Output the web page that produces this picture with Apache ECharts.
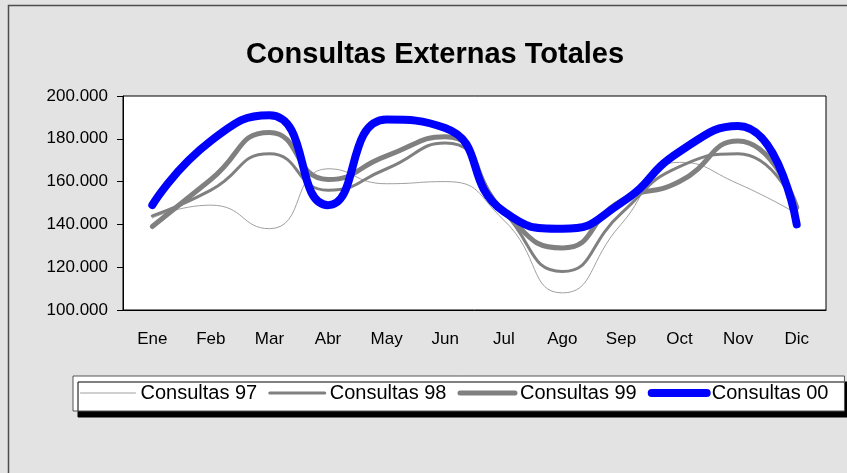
<!DOCTYPE html>
<html lang="es">
<head>
    <meta charset="UTF-8">
    <title>Consultas Externas Totales</title>
    <script src="https://cdn.jsdelivr.net/npm/echarts@6/dist/echarts.min.js"></script>
    <style>
        html, body { margin: 0; padding: 0; background: #e3e3e3; }
    </style>
</head>
<body>
<!-- contenedor del grafico -->
<div id="chart" style="width: 847px;height: 473px;"></div>
<script>
    var meses = ['Ene', 'Feb', 'Mar', 'Abr', 'May', 'Jun', 'Jul', 'Ago', 'Sep', 'Oct', 'Nov', 'Dic'];
    var consultas97 = [143000, 149000, 138000, 166000, 159000, 160000, 142000, 108000, 140000, 169000, 159000, 145000];
    var consultas98 = [144000, 156000, 173000, 156000, 166000, 178000, 146000, 118000, 145000, 167000, 173000, 147000];
    var consultas99 = [139000, 161000, 183000, 161000, 172000, 181000, 146000, 129000, 151000, 160000, 179000, 148000];
    var consultas00 = [149000, 179000, 191000, 149000, 189000, 185000, 146000, 138000, 150000, 174000, 186000, 140000];

    var fuente = 'Liberation Sans, Arial, sans-serif';

    function miles(v) {
        return String(v).replace(/\B(?=(\d{3})+(?!\d))/g, '.');
    }

    function serie(nombre, datos, color, ancho) {
        return {
            name: nombre,
            type: 'line',
            smooth: 0.55,
            symbol: 'none',
            data: datos,
            lineStyle: { color: color, width: ancho, cap: 'round', join: 'round' },
            itemStyle: { color: color }
        };
    }

    function leyenda(nombre, color, ancho) {
        return { name: nombre, lineStyle: { color: color, width: ancho, cap: 'round' } };
    }

    var myChart = echarts.init(document.getElementById('chart'));
    var option = {
        backgroundColor: '#e3e3e3',
        animation: false,
        graphic: [{
            type: 'rect',
            z: -10,
            shape: { x: 8.5, y: 5.5, width: 900, height: 520 },
            style: { fill: 'none', stroke: '#4d4d4d', lineWidth: 1.5 }
        }],
        title: {
            text: 'Consultas Externas Totales',
            left: 430,
            textAlign: 'center',
            top: 35,
            textStyle: { fontFamily: fuente, fontSize: 29, fontWeight: 'bold', color: '#000' }
        },
        legend: {
            left: 73,
            top: 376,
            width: 800,
            padding: [7, 16, 8, 7],
            itemWidth: 55,
            itemHeight: 20,
            itemGap: 11,
            backgroundColor: '#fff',
            borderColor: '#555',
            borderWidth: 1,
            shadowColor: '#000',
            shadowBlur: 0,
            shadowOffsetX: 5,
            shadowOffsetY: 6,
            itemStyle: { opacity: 0 },
            textStyle: { fontFamily: fuente, fontSize: 20, color: '#000' },
            data: [
                leyenda('Consultas 97', '#a0a0a0', 1),
                leyenda('Consultas 98', '#808080', 3),
                leyenda('Consultas 99', '#808080', 5),
                leyenda('Consultas 00', '#0000ff', 8)
            ]
        },
        grid: {
            left: 123,
            top: 96,
            width: 703,
            height: 214,
            show: true,
            backgroundColor: '#fff',
            borderColor: '#000',
            borderWidth: 1
        },
        xAxis: {
            type: 'category',
            data: meses,
            boundaryGap: true,
            axisLine: { lineStyle: { color: '#000', width: 1 } },
            axisTick: { interval: 0, length: 6, lineStyle: { color: '#000' } },
            axisLabel: { interval: 0, margin: 21, fontFamily: fuente, fontSize: 17, color: '#000' }
        },
        yAxis: {
            type: 'value',
            min: 100000,
            max: 200000,
            interval: 20000,
            splitLine: { show: false },
            axisLine: { show: true, lineStyle: { color: '#000', width: 1 } },
            axisTick: { show: true, length: 6, lineStyle: { color: '#000' } },
            axisLabel: { margin: 15, fontFamily: fuente, fontSize: 17, color: '#000', formatter: miles }
        },
        series: [
            serie('Consultas 97', consultas97, '#a0a0a0', 1),
            serie('Consultas 98', consultas98, '#808080', 3),
            serie('Consultas 99', consultas99, '#808080', 5),
            serie('Consultas 00', consultas00, '#0000ff', 8)
        ]
    };
    myChart.setOption(option);
</script>
</body>
</html>
